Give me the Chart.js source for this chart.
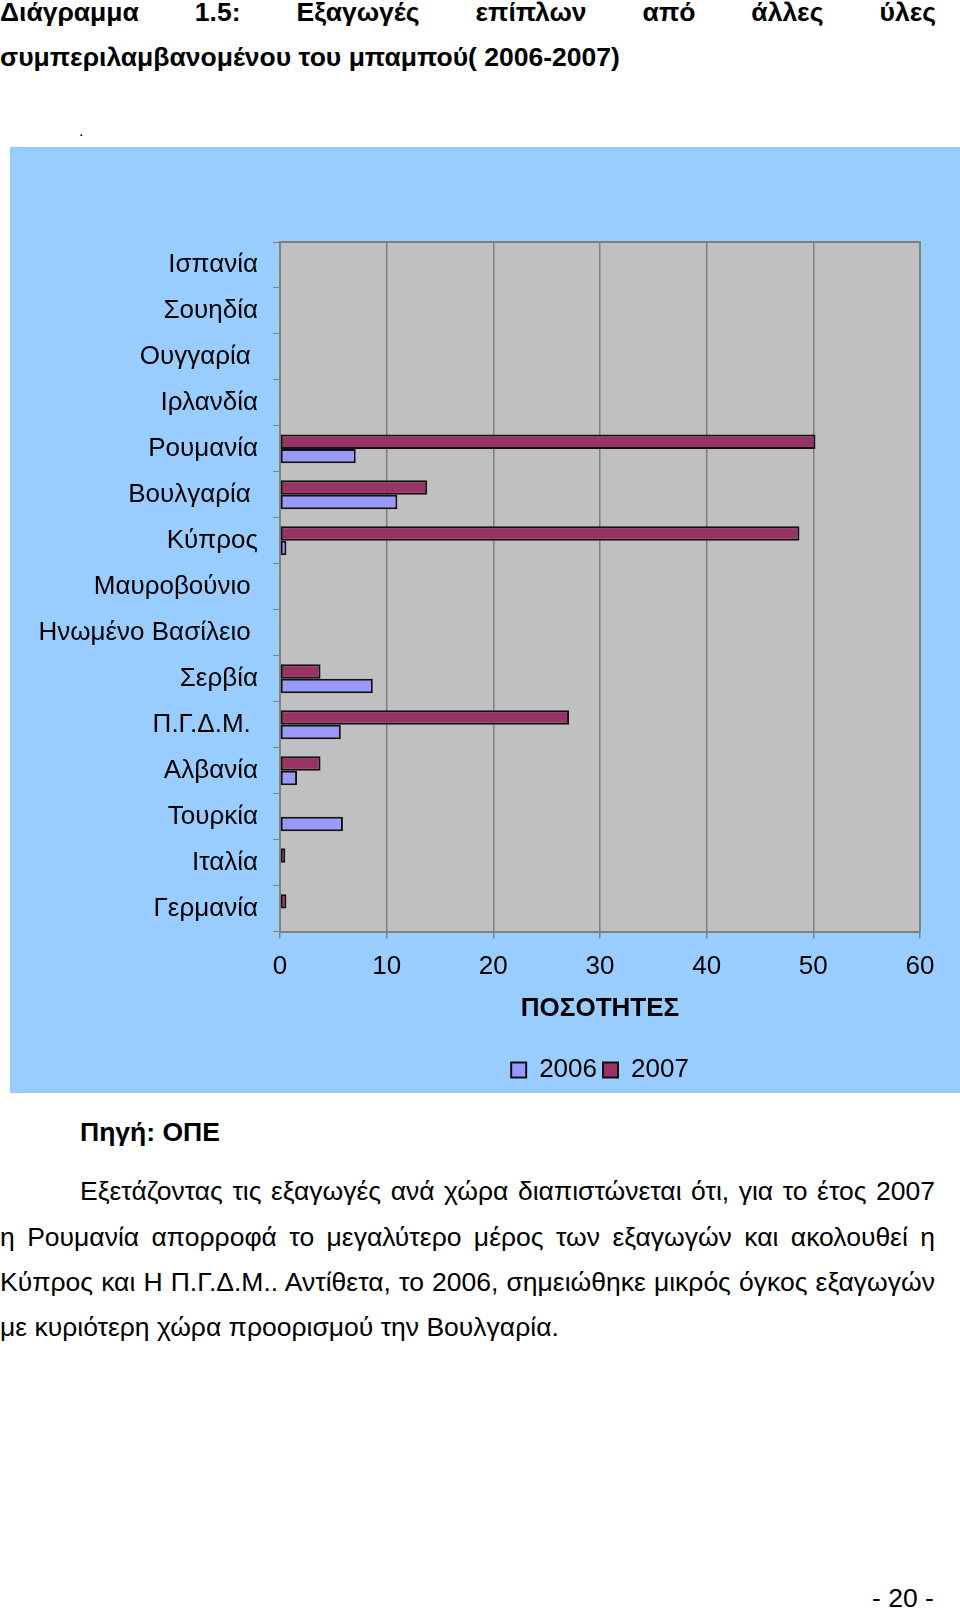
<!DOCTYPE html>
<html>
<head>
<meta charset="utf-8">
<script src="https://cdn.jsdelivr.net/npm/chart.js@4.4.1/dist/chart.umd.min.js"></script>
<style>
  html, body { margin: 0; padding: 0; background: #fff; }
  #page { position: relative; width: 960px; height: 1610px; overflow: hidden; color: #000;
          font-family: "Liberation Sans", Arial, sans-serif; }
  .line { position: absolute; white-space: nowrap; }
  .just { text-align: justify; text-align-last: justify; }
  #title { font-weight: bold; font-size: 26.5px; }
  #chartBox { position: absolute; left: 10px; top: 147px; width: 950px; height: 946px; background: #99CCFF; }
  .para { font-size: 26.5px; }
</style>
</head>
<body>
<div id="page">
  <div id="title">
    <div class="line just" style="left:0; top:-3px; width:936px;">Διάγραμμα 1.5: Εξαγωγές επίπλων από άλλες ύλες</div>
    <div class="line" style="left:0; top:42px;">συμπεριλαμβανομένου του μπαμπού( 2006-2007)</div>
  </div>
  <div class="line" style="left:79px; top:122px; font-size:16px;">.</div>

  <div id="chartBox"><canvas id="chart" width="950" height="946"></canvas></div>

  <div class="line" style="left:80px; top:1117px; font-size:26.5px; font-weight:bold;">Πηγή: ΟΠΕ</div>
  <div class="para">
    <div class="line just" style="left:80px; top:1176px; width:855px;">Εξετάζοντας τις εξαγωγές ανά χώρα διαπιστώνεται ότι, για το έτος 2007</div>
    <div class="line just" style="left:0; top:1222px; width:935px;">η Ρουμανία απορροφά το μεγαλύτερο μέρος των εξαγωγών και ακολουθεί η</div>
    <div class="line just" style="left:0; top:1267px; width:935px;">Κύπρος και Η Π.Γ.Δ.Μ.. Αντίθετα, το 2006, σημειώθηκε μικρός όγκος εξαγωγών</div>
    <div class="line" style="left:0; top:1312px;">με κυριότερη χώρα προορισμού την Βουλγαρία.</div>
  </div>
  <div class="line" style="left:872px; top:1583px; font-size:26.5px;">- 20 -</div>
</div>

<script>
// categories listed top to bottom as in the picture
const categories = ['Ισπανία', 'Σουηδία', 'Ουγγαρία ', 'Ιρλανδία', 'Ρουμανία', 'Βουλγαρία ', 'Κύπρος',
  'Μαυροβούνιο ', 'Ηνωμένο Βασίλειο ', 'Σερβία', 'Π.Γ.Δ.Μ. ', 'Αλβανία', 'Τουρκία', 'Ιταλία', 'Γερμανία'];
const values2006 = [null, null, null, null, 7.1, 11.0, 0.6, null, null, 8.7, 5.7, 1.6, 5.9, null, null];
const values2007 = [null, null, null, null, 50.2, 13.8, 48.7, null, null, 3.8, 27.1, 3.8, null, 0.5, 0.6];
const xTicks = [0, 10, 20, 30, 40, 50, 60];

const FONT = 'Liberation Sans';

const plotBackground = {
  id: 'plotBackground',
  beforeDraw(chart) {
    const { ctx, chartArea: a } = chart;
    ctx.save();
    ctx.fillStyle = '#C0C0C0';
    ctx.fillRect(a.left, a.top, a.right - a.left, a.bottom - a.top);
    ctx.restore();
  },
  afterDatasetsDraw(chart) {
    const { ctx, chartArea: a } = chart;
    ctx.save();
    ctx.strokeStyle = '#808080';
    ctx.lineWidth = 2;
    ctx.beginPath();
    ctx.moveTo(a.left, a.top);
    ctx.lineTo(a.right, a.top);
    ctx.lineTo(a.right, a.bottom);
    ctx.stroke();
    ctx.restore();
  }
};

const ctx = document.getElementById('chart').getContext('2d');
new Chart(ctx, {
  type: 'bar',
  data: {
    labels: categories,
    datasets: [
      {
        label: '2007',
        data: values2007,
        backgroundColor: '#993366',
        borderColor: '#111111',
        borderWidth: 2,
        borderSkipped: false
      },
      {
        label: '2006',
        data: values2006,
        backgroundColor: '#9999FF',
        borderColor: '#111111',
        borderWidth: 2,
        borderSkipped: false
      }
    ]
  },
  options: {
    indexAxis: 'y',
    responsive: false,
    animation: false,
    categoryPercentage: 0.63,
    barPercentage: 1,
    layout: { padding: { left: 10, right: 40, top: 95, bottom: 0 } },
    scales: {
      x: {
        min: 0,
        max: 60,
        afterBuildTicks: axis => { axis.ticks = xTicks.map(v => ({ value: v })); },
        ticks: { color: '#000', font: { family: FONT, size: 26 }, padding: 13 },
        grid: { color: '#808080', lineWidth: 1.5, tickLength: 7 },
        border: { color: '#808080', width: 2 },
        title: {
          display: true,
          text: 'ΠΟΣΟΤΗΤΕΣ',
          color: '#000',
          font: { family: FONT, size: 26, weight: 'bold' },
          padding: { top: -3, bottom: 27 }
        }
      },
      y: {
        afterFit: axis => { axis.width = 260; },
        ticks: { color: '#000', font: { family: FONT, size: 26 }, padding: 15 },
        grid: { drawOnChartArea: false, color: '#808080', tickLength: 7 },
        border: { color: '#808080', width: 2 }
      }
    },
    plugins: {
      legend: {
        position: 'bottom',
        fullSize: false,
        reverse: true,
        labels: {
          color: '#000',
          font: { family: FONT, size: 26 },
          boxWidth: 15,
          boxHeight: 15,
          padding: 6
        }
      },
      tooltip: { enabled: false }
    }
  },
  plugins: [plotBackground]
});
</script>
</body>
</html>
